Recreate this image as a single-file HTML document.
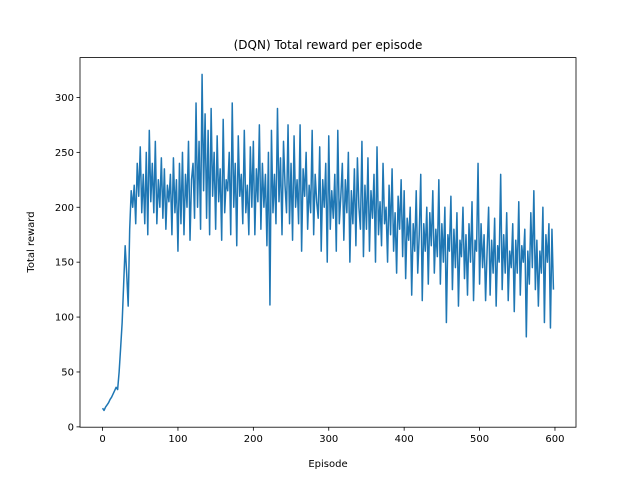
<!DOCTYPE html>
<html><head><meta charset="utf-8"><style>
body{margin:0;background:#fff}
svg{display:block;font-family:"DejaVu Sans","Liberation Sans",sans-serif}
</style></head><body>
<svg id="chart" width="640" height="480">
<rect width="640" height="480" fill="#fff"/>
<text x="328" y="49" text-anchor="middle" font-size="12">(DQN) Total reward per episode</text>
<text x="328" y="467" text-anchor="middle" font-size="10">Episode</text>
<text transform="translate(34,242) rotate(-90)" text-anchor="middle" font-size="10">Total reward</text>
<g id="plot"></g>
<rect x="80" y="57.6" width="496" height="369.6" fill="none" stroke="#000" stroke-width="0.8"/>
</svg>
<script>
const xTicks=[0,100,200,300,400,500,600];
const yTicks=[0,50,100,150,200,250,300];
const episodeStep=2;
const rewards=[
17,15,18,20,22,25,27,30,33,36,34,50,72,95,130,165,140,110,180,215,200,220,185,240,210,
255,195,230,185,250,175,270,205,240,195,260,185,225,200,245,190,235,180,220,205,230,175,245,195,225,
160,240,185,250,175,230,200,260,170,225,240,190,295,200,260,180,321,215,285,190,270,175,290,210,250,
180,265,205,235,170,280,195,225,215,250,175,295,200,240,165,265,210,230,185,270,195,220,175,255,200,
260,175,235,205,275,180,240,200,230,165,250,111,270,195,230,185,290,205,245,175,260,220,195,275,185,
240,170,265,200,225,185,275,160,235,210,250,180,220,195,270,175,230,205,190,255,160,225,200,240,150,
265,180,215,190,230,160,270,185,210,240,170,225,195,250,150,215,185,235,165,245,200,180,260,155,220,
180,245,160,215,190,230,150,255,175,205,165,240,185,200,150,220,175,235,160,195,140,210,180,225,155,
215,135,190,170,200,120,185,160,215,140,175,230,115,185,160,200,130,195,165,215,140,180,155,225,130,
185,150,200,95,175,160,210,125,180,145,195,110,170,155,200,135,175,120,185,150,205,115,170,160,240,
130,185,145,175,115,160,200,120,170,140,190,110,165,150,230,125,175,140,195,115,160,145,185,105,170,
140,205,120,165,150,180,82,160,130,195,145,215,125,170,110,160,140,200,95,175,150,185,90,180,125];
const NS="http://www.w3.org/2000/svg";
const L=80,R=576,T=57.6,B=427.2;
const n=rewards.length,xmax=(n-1)*episodeStep;
const ymin=Math.min(...rewards),ymax=Math.max(...rewards);
const xpad=xmax*0.05,ypad=(ymax-ymin)*0.05;
const x0=-xpad,x1=xmax+xpad,y0=ymin-ypad,y1=ymax+ypad;
function sx(v){return L+(v-x0)/(x1-x0)*(R-L);}
function sy(v){return B-(v-y0)/(y1-y0)*(B-T);}
const g=document.getElementById('plot');
function mk(tag,attrs){const e=document.createElementNS(NS,tag);for(const k in attrs)e.setAttribute(k,attrs[k]);g.appendChild(e);return e;}
xTicks.forEach(t=>{
 const l=mk('line',{x1:sx(t),x2:sx(t),y1:B,y2:B+3.5,stroke:'#000','stroke-width':0.8});
 
 
 const tx=mk('text',{x:sx(t),y:B+15,'text-anchor':'middle','font-size':10});
 tx.textContent=t;
 
 
});
yTicks.forEach(t=>{
 const l=mk('line',{x1:L-3.5,x2:L,y1:sy(t),y2:sy(t),stroke:'#000','stroke-width':0.8});
 
 
 const tx=mk('text',{x:L-6,y:sy(t)+3.5,'text-anchor':'end','font-size':10});
 tx.textContent=t;
 
 
});
const d=rewards.map((v,i)=>(i?'L':'M')+sx(i*episodeStep).toFixed(2)+','+sy(v).toFixed(2)).join('');
const p=mk('path',{d:d,fill:'none',stroke:'#1f77b4','stroke-width':1.5,'stroke-linejoin':'round'});


</script>
</body></html>
